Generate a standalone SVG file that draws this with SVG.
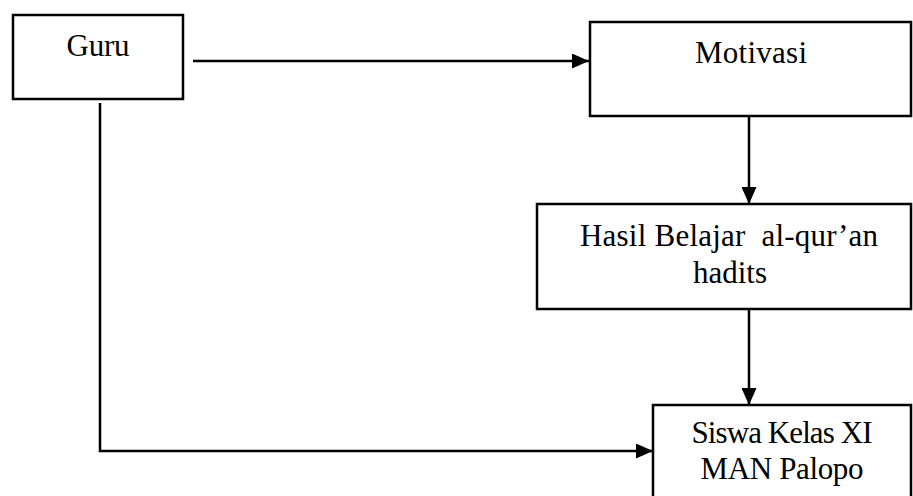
<svg xmlns="http://www.w3.org/2000/svg" width="913" height="496" viewBox="0 0 913 496">
<style>
.box{fill:#fff;stroke:#000;stroke-width:2.5}
.lbl{font-family:"Liberation Serif","Times New Roman",serif;font-size:31px;fill:#000;text-anchor:middle}
.conn{fill:none;stroke:#000;stroke-width:2.5}
</style>
<defs>
<marker id="ah" markerUnits="userSpaceOnUse" markerWidth="17" markerHeight="15" refX="17" refY="7.5" orient="auto">
<path d="M0,0 L17,7.5 L0,15 Z" fill="#000"/>
</marker>
</defs>
<rect width="913" height="496" fill="#fff"/>
<g id="connectors">
<path class="conn" d="M193,61 H589" marker-end="url(#ah)"/>
<path class="conn" d="M749,116 V204" marker-end="url(#ah)"/>
<path class="conn" d="M749,309 V405" marker-end="url(#ah)"/>
<path class="conn" d="M100,103 V451 H653" marker-end="url(#ah)"/>
</g>
<g id="guru">
<rect class="box" x="13" y="15" width="170" height="84"/>
<text class="lbl" x="98" y="56" textLength="63">Guru</text>
</g>
<g id="motivasi">
<rect class="box" x="590" y="22" width="321" height="94"/>
<text class="lbl" x="751" y="63" textLength="112">Motivasi</text>
</g>
<g id="hasil">
<rect class="box" x="537" y="204" width="374" height="105"/>
<text class="lbl" x="729" y="246" textLength="298" xml:space="preserve">Hasil Belajar  al-qur’an</text>
<text class="lbl" x="730" y="283" textLength="74">hadits</text>
</g>
<g id="siswa">
<rect class="box" x="653" y="405" width="258" height="100"/>
<text class="lbl" x="782" y="443" textLength="181">Siswa Kelas XI</text>
<text class="lbl" x="782" y="479" textLength="163">MAN Palopo</text>
</g>
</svg>
